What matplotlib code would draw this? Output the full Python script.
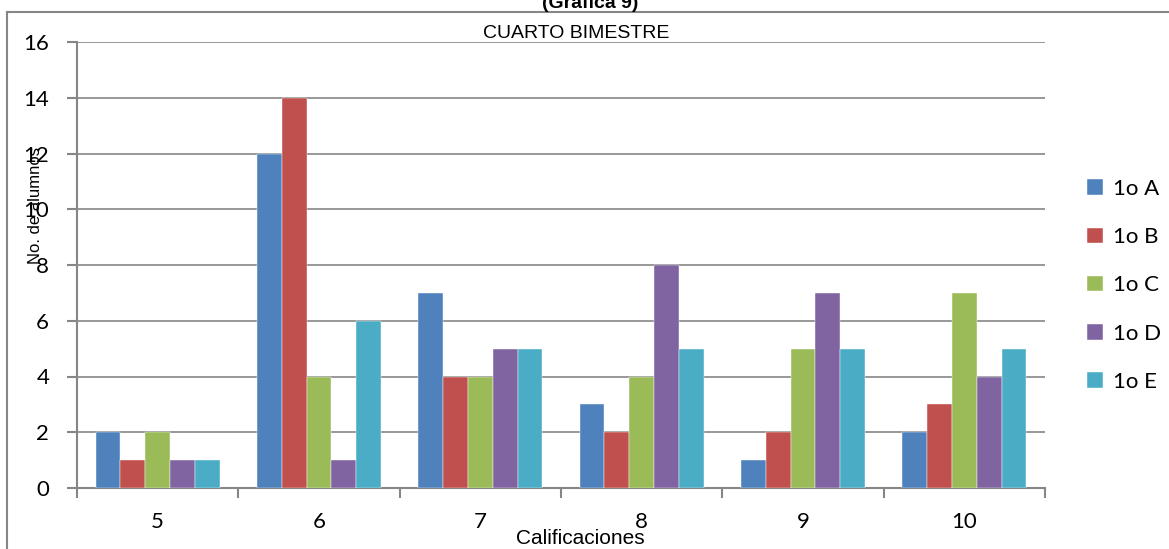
import matplotlib
matplotlib.use("Agg")
import matplotlib.pyplot as plt
import numpy as np
from matplotlib.lines import Line2D

categories = ["5", "6", "7", "8", "9", "10"]
series_names = ["1o A", "1o B", "1o C", "1o D", "1o E"]
s_A = [2, 12, 7, 3, 1, 2]
s_B = [1, 14, 4, 2, 2, 3]
s_C = [2, 4, 4, 4, 5, 7]
s_D = [1, 1, 5, 8, 7, 4]
s_E = [1, 6, 5, 5, 5, 5]
colors = ["#4F81BD", "#C0504D", "#9BBB59", "#8064A2", "#4BACC6"]
yticks = [0, 2, 4, 6, 8, 10, 12, 14, 16]

W, H = 1169, 549
fig = plt.figure(figsize=(W / 100, H / 100), dpi=100)
ax = fig.add_axes([77 / W, 1 - 488 / H, (1045 - 77) / W, (488 - 42) / H])

narrow = ["Liberation Sans Narrow", "Liberation Sans", "DejaVu Sans"]
tickfont = ["Lato", "DejaVu Sans"]

x = np.arange(len(categories))
bw = 0.154
all_series = [s_A, s_B, s_C, s_D, s_E]
for i, (name, vals, c) in enumerate(zip(series_names, all_series, colors)):
    ax.bar(x + (i - 2) * bw, vals, width=bw, color=c, label=name,
           edgecolor="white", linewidth=0.3, zorder=3)

ax.set_xlim(-0.5, len(categories) - 0.5)
ax.set_ylim(0, 16)
ax.set_yticks(yticks)
ax.set_yticklabels([str(v) for v in yticks], fontsize=16, family=tickfont)
ax.set_xticks(x)
ax.set_xticklabels(categories, fontsize=16, family=tickfont)
ax.set_xticks(np.arange(len(categories) + 1) - 0.5, minor=True)
ax.tick_params(axis="x", which="major", length=0, pad=17)
ax.tick_params(axis="x", which="minor", length=7, color="#868686", width=1.5)
ax.tick_params(axis="y", length=7, color="#868686", width=1.5, pad=13)
ax.grid(axis="y", color="#868686", linewidth=1.2, zorder=0)
for sp in ["top", "right"]:
    ax.spines[sp].set_visible(False)
for sp in ["left", "bottom"]:
    ax.spines[sp].set_color("#868686")
    ax.spines[sp].set_linewidth(1.5)

fig.text(576 / W, 1 - 34 / H, "CUARTO BIMESTRE", ha="center", va="center",
         fontsize=14, family=narrow)
fig.text(590 / W, 1 - 3 / H, "(Gráfica 9)", ha="center", va="center",
         fontsize=14, fontweight="bold", family=narrow)
fig.text(580 / W, 1 - 538 / H, "Calificaciones", ha="center", va="center",
         fontsize=15, family=narrow)
fig.text(36 / W, 1 - 205 / H, "No. de alumnos", ha="center", va="center",
         rotation=90, fontsize=12, family=narrow)

leg = fig.legend(loc="upper left", bbox_to_anchor=(1087 / W, 1 - 179 / H),
                 frameon=False, prop={"family": tickfont, "size": 16},
                 borderpad=0, borderaxespad=0,
                 handlelength=0.7, handleheight=0.7, handletextpad=0.45,
                 labelspacing=1.27)

fig.add_artist(Line2D([7 / W, 7 / W], [0, 1 - 12 / H], transform=fig.transFigure,
                      color="#868686", linewidth=1.5))
fig.add_artist(Line2D([7 / W, 1], [1 - 12 / H, 1 - 12 / H], transform=fig.transFigure,
                      color="#868686", linewidth=1.5))

fig.savefig("out.png", dpi=100)
